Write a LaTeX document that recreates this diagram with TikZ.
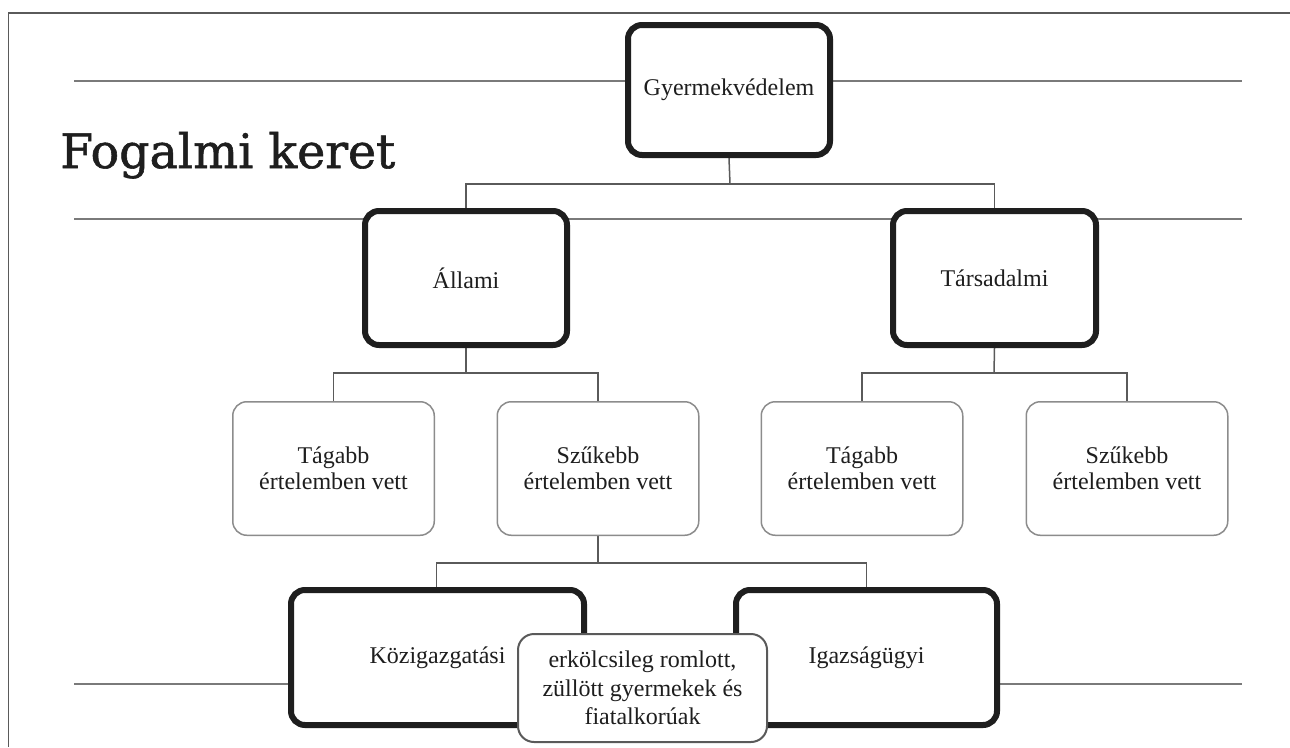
\documentclass[tikz,border=0pt]{standalone}
\usepackage{fontspec}
\setmainfont{Liberation Serif}
\newfontfamily\titlefont[FakeBold=1.2]{DejaVu Serif}
\usetikzlibrary{calc}
\pgfdeclarelayer{bg}
\pgfsetlayers{bg,main}
\definecolor{rulegray}{HTML}{7A7A7A}
\definecolor{conngray}{HTML}{5A5A5A}
\definecolor{thickblack}{HTML}{1E1E1E}
\definecolor{thingray}{HTML}{8C8C8C}
\definecolor{txt}{HTML}{1E1E1E}
\tikzset{
  thickbox/.style={draw=thickblack, line width=6pt, rounded corners=14pt, fill=white,
    align=center, inner sep=0pt, text=txt, font=\fontsize{24}{26}\selectfont},
  thinbox/.style={draw=thingray, line width=1.5pt, rounded corners=14pt, fill=white,
    align=center, inner sep=0pt, text=txt, font=\fontsize{24}{25.5}\selectfont,
    minimum width=201.5pt, minimum height=133.5pt},
  overbox/.style={draw=conngray, line width=2pt, rounded corners=16pt, fill=white,
    align=center, inner sep=0pt, text=txt, font=\fontsize{24}{28.5}\selectfont},
  rulestyle/.style={draw=rulegray, line width=2pt},
  connstyle/.style={draw=conngray, line width=1.5pt},
  borderstyle/.style={draw=conngray, line width=1.5pt},
}
\begin{document}
\begin{tikzpicture}[x=1pt,y=-1pt]
\useasboundingbox (0,0) rectangle (1290,747);

% title
\node[anchor=base west, inner sep=0pt, text=txt, font=\titlefont\fontsize{47.5}{50}\selectfont] (title) at (60,168) {Fogalmi keret};

% level 0
\node[thickbox, minimum width=202pt, minimum height=130pt] (g) at (729,90) {Gyermekvédelem};
% level 1
\node[thickbox, minimum width=202pt, minimum height=134pt] (allami) at (466,278) {Állami};
\node[thickbox, minimum width=203pt, minimum height=134pt] (tars) at (994.5,278) {Társadalmi};
% level 2
\node[thinbox] (tag1) at (333.5,468.5) {Tágabb\\értelemben vett};
\node[thinbox] (szu1) at (598,468.5) {Szűkebb\\értelemben vett};
\node[thinbox] (tag2) at (862,468.5) {Tágabb\\értelemben vett};
\node[thinbox] (szu2) at (1127,468.5) {Szűkebb\\értelemben vett};
% level 3
\node[thickbox, minimum width=293pt, minimum height=135pt] (kozig) at (437.5,657.5) {Közigazgatási};
\node[thickbox, minimum width=261pt, minimum height=135pt] (igaz) at (866.5,657.5) {Igazságügyi};
\node[overbox, minimum width=249pt, minimum height=108pt] (erk) at (642.5,688) {erkölcsileg romlott,\\züllött gyermekek és\\fiatalkorúak};

\coordinate (j0) at (730,184);
\coordinate (j1) at (466,373);
\coordinate (j2) at (994,373);
\coordinate (j3) at (598,563);

\begin{pgfonlayer}{bg}
  \fill[white] (0,0) rectangle (1290,747);
  % frame
  \draw[borderstyle] (8.5,747) -- (8.5,13) -- (1290,13);
  % decorative rules
  \draw[rulestyle] (74,81) -- (1242,81);
  \draw[rulestyle] (74,219) -- (1242,219);
  \draw[rulestyle] (74,684) -- (1242,684);
  % connectors
  \draw[connstyle] (g.south) -- (j0);
  \draw[connstyle] (allami.north) |- (j0) -| (tars.north);
  \draw[connstyle] (allami.south) -- (j1);
  \draw[connstyle] (tag1.north) |- (j1) -| (szu1.north);
  \draw[connstyle] (tars.south) -- (j2);
  \draw[connstyle] (tag2.north) |- (j2) -| (szu2.north);
  \draw[connstyle] (szu1.south) -- (j3);
  \draw[connstyle] ([xshift=-1pt]kozig.north) |- (j3) -| (igaz.north);
\end{pgfonlayer}
\end{tikzpicture}
\end{document}
